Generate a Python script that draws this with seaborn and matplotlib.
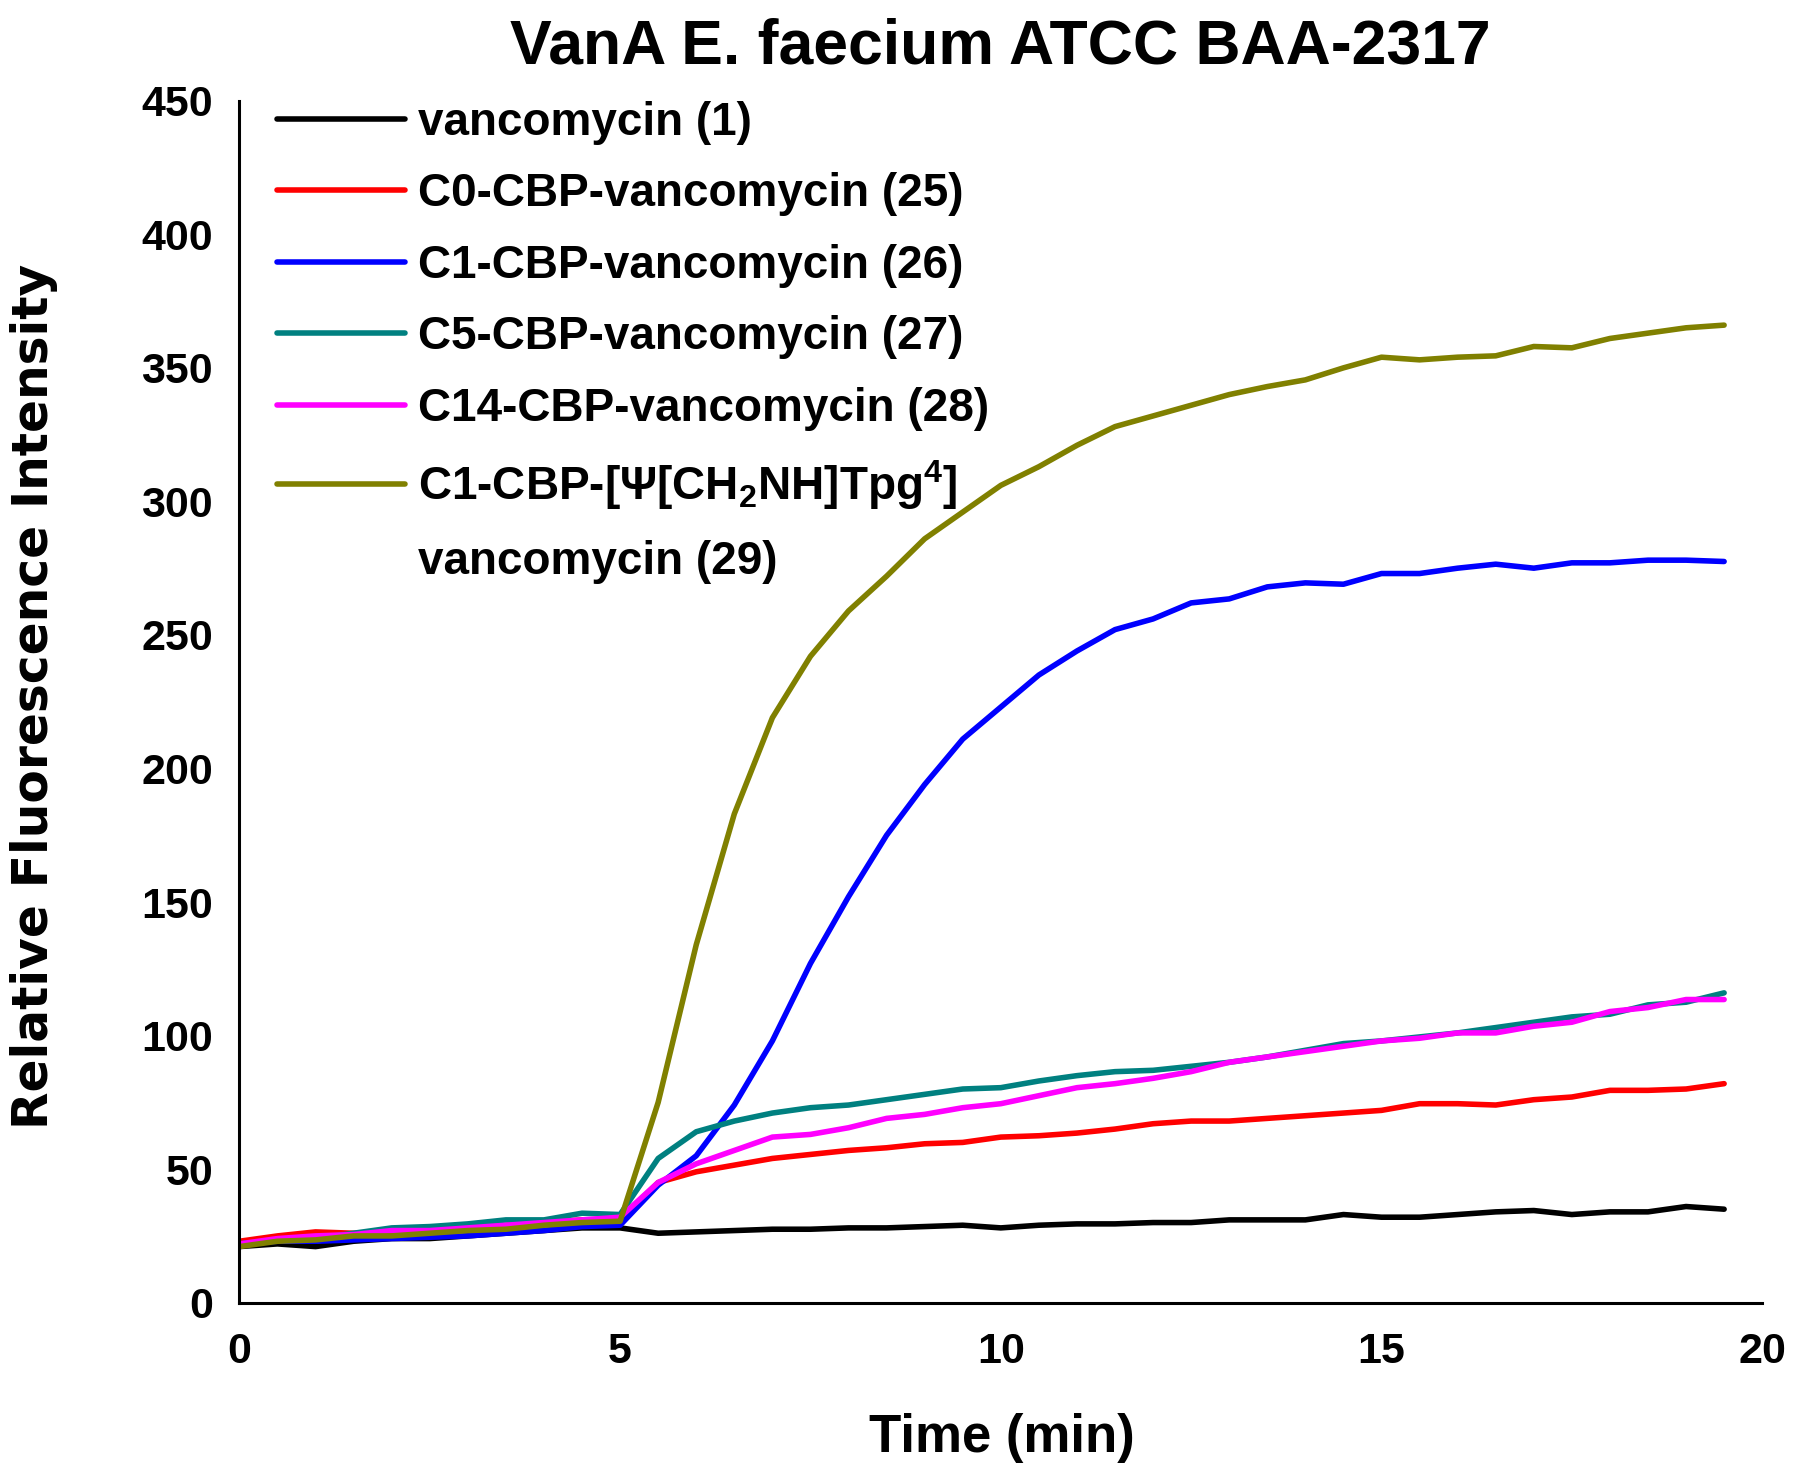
import numpy as np
import pandas as pd
import matplotlib
matplotlib.use('Agg')
import matplotlib.pyplot as plt
from matplotlib.lines import Line2D
import seaborn as sns

# ── Data ─────────────────────────────────────
time_min = [0, 0.5, 1, 1.5, 2, 2.5, 3, 3.5, 4, 4.5,
            5, 5.5, 6, 6.5, 7, 7.5, 8, 8.5, 9, 9.5,
            10, 10.5, 11, 11.5, 12, 12.5, 13, 13.5, 14, 14.5,
            15, 15.5, 16, 16.5, 17, 17.5, 18, 18.5, 19, 19.5]

vanco = [21, 22, 21, 23, 24, 24, 25, 26, 27, 28,
         28, 26, 26.5, 27, 27.5, 27.5, 28, 28, 28.5, 29,
         28, 29, 29.5, 29.5, 30, 30, 31, 31, 31, 33,
         32, 32, 33, 34, 34.5, 33, 34, 34, 36, 35]

c0_cbp = [23, 25, 26.5, 26, 26.5, 27, 28, 29, 30, 31,
          31, 45, 49, 51.5, 54, 55.5, 57, 58, 59.5, 60,
          62, 62.5, 63.5, 65, 67, 68, 68, 69, 70, 71,
          72, 74.5, 74.5, 74, 76, 77, 79.5, 79.5, 80, 82]

c1_cbp = [22, 23, 23, 23.5, 24, 24.5, 25, 26, 27, 28.5,
          29, 44, 55, 74, 98, 127, 152, 175, 194, 211,
          223, 235, 244, 252, 256, 262, 263.5, 268, 269.5, 269,
          273, 273, 275, 276.5, 275, 277, 277, 278, 278, 277.5]

c5_cbp = [22, 23.5, 24, 26, 28, 28.5, 29.5, 31, 31, 33.5,
          33, 54, 64, 68, 71, 73, 74, 76, 78, 80,
          80.5, 83, 85, 86.5, 87, 88.5, 90, 92, 94.5, 97,
          98, 99.5, 101, 103, 105, 107, 108, 111.5, 112.5, 116]

c14_cbp = [22, 24, 25, 25.5, 27, 27, 28, 29, 30, 31,
           32, 45, 52, 57, 62, 63, 65.5, 69, 70.5, 73,
           74.5, 77.5, 80.5, 82, 84, 86.5, 90, 92, 94, 96,
           98, 99, 101, 101, 103.5, 105, 109, 110.5, 113.5, 113.5]

c1_psi = [21, 23, 23.5, 25, 25, 26, 27, 27.5, 29, 30,
          30.5, 75, 134, 183, 219, 242, 259, 272, 286, 296,
          306, 313, 321, 328, 332, 336, 340, 343, 345.5, 350,
          354, 353, 354, 354.5, 358, 357.5, 361, 363, 365, 366]

labels = ['vancomycin (1)',
          'C0-CBP-vancomycin (25)',
          'C1-CBP-vancomycin (26)',
          'C5-CBP-vancomycin (27)',
          'C14-CBP-vancomycin (28)',
          'C1-CBP-[\u03A8[CH\u2082NH]Tpg\u2074]']
label_cont = 'vancomycin (29)'
# same label as drawn in the legend (serif Psi, real sub/superscripts)
legend_psi = r'C1-CBP-[$\mathit{\Psi}$[CH$_{2}$NH]Tpg$^{4}$]'
colors = ['#000000', '#FF0000', '#0000FF', '#008080', '#FF00FF', '#808000']
series = [vanco, c0_cbp, c1_cbp, c5_cbp, c14_cbp, c1_psi]

df = pd.concat([pd.DataFrame({'time': time_min, 'rfu': vals, 'compound': lab})
                for lab, vals in zip(labels, series)], ignore_index=True)

# ── Style ────────────────────────────────────
sns.set_theme(style='white')
plt.rcParams.update({
    'font.family': ['Liberation Sans', 'DejaVu Sans'],
    'font.weight': 'bold',
    'text.color': 'black',
    'axes.labelcolor': 'black',
    'xtick.color': 'black',
    'ytick.color': 'black',
    'mathtext.fontset': 'custom',
    'mathtext.rm': 'Liberation Sans:bold',
    'mathtext.it': 'Liberation Serif',
    'mathtext.bf': 'Liberation Sans:bold',
    'mathtext.default': 'rm',
})

LW = 4.0

fig = plt.figure(figsize=(18, 14.82), dpi=100)
ax = fig.add_axes([0.133, 0.121, 0.846, 0.811])

sns.lineplot(data=df, x='time', y='rfu', hue='compound', hue_order=labels,
             palette=colors, linewidth=LW, ax=ax, legend=True)

ax.set_xlim(0, 20)
ax.set_ylim(0, 450)
ax.set_xticks([0, 5, 10, 15, 20])
ax.set_yticks(np.arange(0, 451, 50))
ax.tick_params(axis='both', length=0, labelsize=31, labelcolor='black')
ax.tick_params(axis='y', pad=19)
ax.tick_params(axis='x', pad=21)
for lbl in ax.get_xticklabels() + ax.get_yticklabels():
    lbl.set_fontweight('bold')

for side in ['top', 'right']:
    ax.spines[side].set_visible(False)
for side in ['left', 'bottom']:
    ax.spines[side].set_color('black')
    ax.spines[side].set_linewidth(2.2)

ax.set_title('VanA E. faecium ATCC BAA-2317', fontsize=45,
             fontweight='bold', pad=27, color='black')
ax.set_xlabel('Time (min)', fontsize=38, fontweight='bold')
ax.xaxis.label.set_va('center')
ax.xaxis.set_label_coords(0.501, -0.113)
ax.set_ylabel('')
fig.text(0.019, 0.530, 'Relative Fluorescence Intensity', rotation=90,
         ha='center', va='center', fontsize=35, fontweight='bold',
         family='DejaVu Sans', color='black')

# legend: last entry wraps onto a second row with no handle
handles, _ = ax.get_legend_handles_labels()
handles = list(handles[:len(labels)]) + [Line2D([], [], color='none')]
leg_labels = labels[:-1] + [legend_psi, label_cont]
leg = ax.legend(handles, leg_labels, loc='upper left',
                bbox_to_anchor=(0.154, 0.932), bbox_transform=fig.transFigure,
                frameon=False, fontsize=33, handlelength=2.78,
                handletextpad=0.3, labelspacing=0.6, borderpad=0,
                borderaxespad=0)
for t in leg.get_texts():
    t.set_fontweight('bold')
    t.set_color('black')
for h in leg.get_lines():
    h.set_linewidth(LW)

fig.savefig('out.png', dpi=100)
plt.close(fig)
